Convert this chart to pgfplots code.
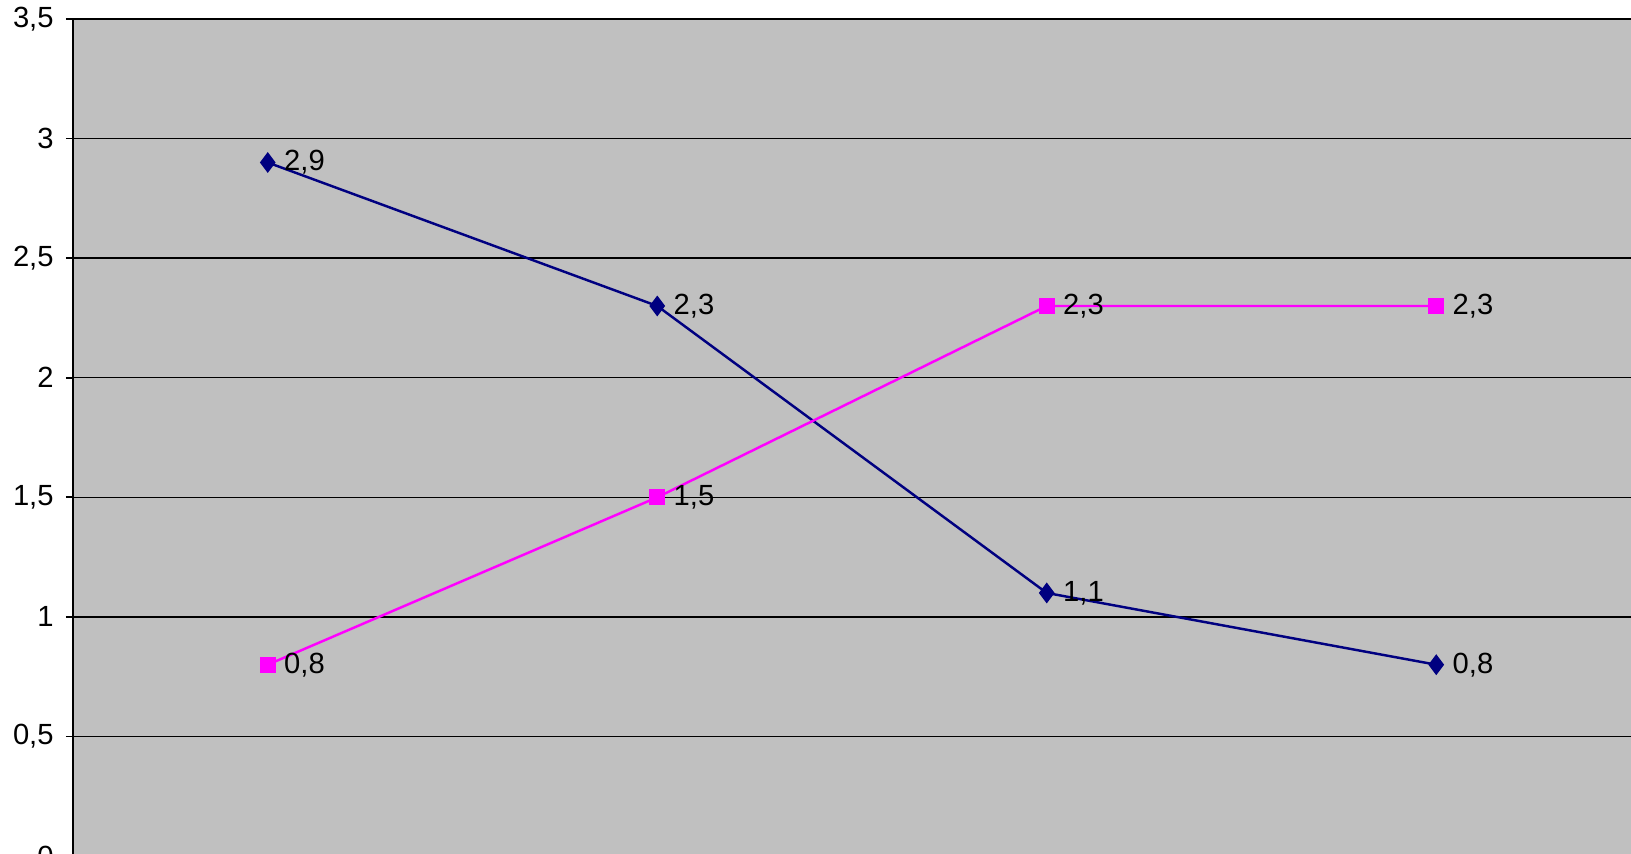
\documentclass[border=0pt]{standalone}
\usepackage{pgfplots}
\pgfplotsset{compat=1.18}
\usepackage{fontspec}
\setmainfont{Liberation Sans}
\definecolor{navyc}{RGB}{0,0,128}
\definecolor{magc}{RGB}{255,0,255}
\definecolor{bgc}{RGB}{192,192,192}
\begin{document}
\begin{tikzpicture}
\path[use as bounding box] (0,0) rectangle (16.31cm,8.53cm);
\begin{axis}[overlay,at={(0.73cm,-0.03cm)},anchor=south west,scale only axis,
 width=15.58cm,height=8.37cm,
 /pgf/number format/assume math mode=true,
 xmin=0.5,xmax=4.5,ymin=0,ymax=3.5,
 axis background/.style={fill=bgc},
 axis line style={black,line width=0.6pt},
 axis x line=none, axis y line*=left,
 ytick={0,0.5,...,3.5},
 yticklabels={0,{0,5},1,{1,5},2,{2,5},3,{3,5}},
 tick align=outside, major tick length=0.07cm,
 tick style={black,line width=0.5pt},
 ymajorgrids, grid style={black,line width=0.4pt},
 xtick=\empty,
 yticklabel style={font=\fontsize{8.3}{9}\selectfont},
 every node near coord/.append style={font=\fontsize{8.3}{9}\selectfont,anchor=west,xshift=1pt,text=black},
 nodes near coords={\pgfmathprintnumber[use comma,fixed,precision=1,assume math mode=true]{\pgfplotspointmeta}},
 clip=false]
\addplot[navyc,line width=0.7pt,mark=diamond*,mark size=2.4pt,mark options={fill=navyc}]
 coordinates {(1,2.9)(2,2.3)(3,1.1)(4,0.8)};
\addplot[magc,line width=0.7pt,mark=square*,mark size=1.9pt,mark options={fill=magc}]
 coordinates {(1,0.8)(2,1.5)(3,2.3)(4,2.3)};
\end{axis}
\end{tikzpicture}
\end{document}
